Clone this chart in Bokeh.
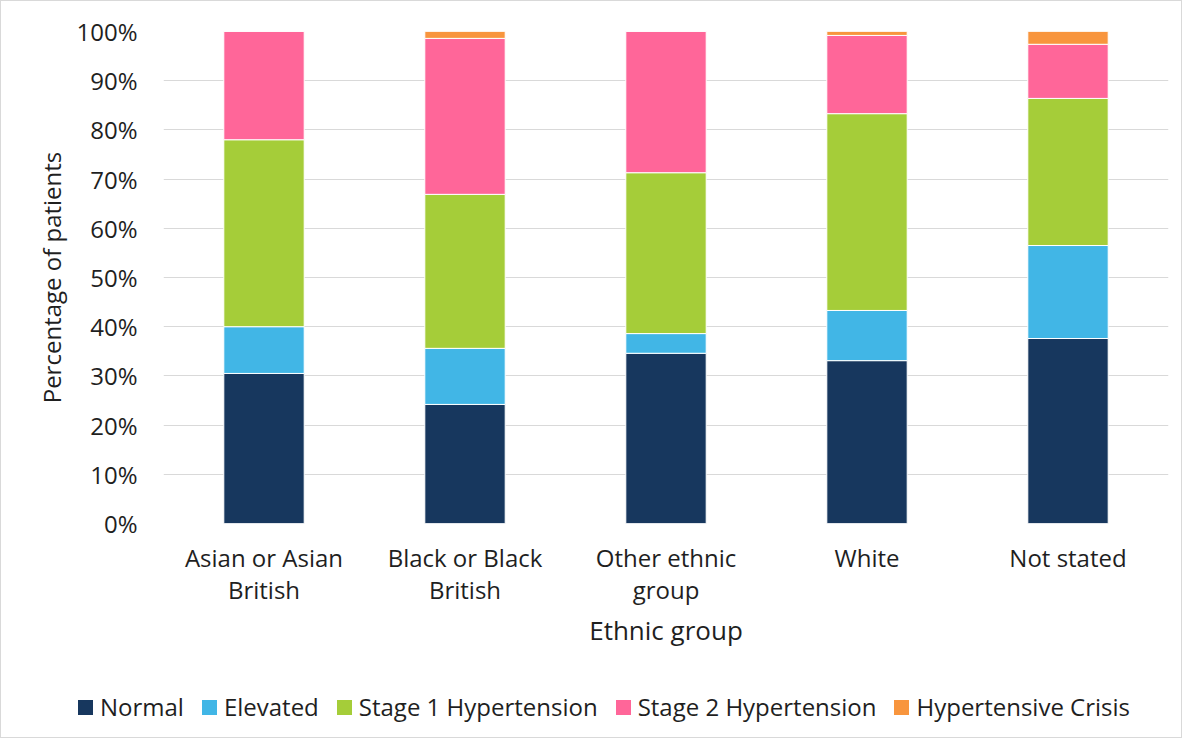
from bokeh.plotting import figure
from bokeh.layouts import column
from bokeh.models import ColumnDataSource, Range1d, FactorRange, NumeralTickFormatter, FixedTicker, Div
from bokeh.embed import file_html
from bokeh.resources import INLINE

categories = ["Asian or Asian\nBritish", "Black or Black\nBritish", "Other ethnic\ngroup", "White", "Not stated"]
normal = [0.305, 0.242, 0.346, 0.331, 0.376]
elevated = [0.095, 0.114, 0.040, 0.102, 0.189]
stage1 = [0.380, 0.313, 0.327, 0.400, 0.299]
stage2 = [0.220, 0.317, 0.287, 0.159, 0.110]
crisis = [0.000, 0.014, 0.000, 0.008, 0.026]

series = ["Normal", "Elevated", "Stage 1 Hypertension", "Stage 2 Hypertension", "Hypertensive Crisis"]
colors = ["#17375E", "#41B6E6", "#A5CD39", "#FF6699", "#F8953D"]

source = ColumnDataSource(data=dict(cat=categories, Normal=normal, Elevated=elevated,
                                    **{"Stage 1 Hypertension": stage1,
                                       "Stage 2 Hypertension": stage2,
                                       "Hypertensive Crisis": crisis}))

FONT = "Open Sans"
TXT = "#1f1f1f"

p = figure(width=1180, height=680, x_range=FactorRange(*categories), y_range=Range1d(0, 1),
           output_backend="svg", toolbar_location=None,
           min_border_left=162, min_border_right=13, min_border_top=30, min_border_bottom=158)
p.x_range.range_padding = 0.0

p.vbar_stack(series, x="cat", width=0.4, source=source, color=colors,
             line_color="white", line_width=1)

p.outline_line_color = None
p.background_fill_color = "white"
p.border_fill_color = "white"

p.xgrid.grid_line_color = None
p.ygrid.grid_line_color = "#d9d9d9"
p.ygrid.grid_line_width = 1.2

p.yaxis.ticker = FixedTicker(ticks=[i / 10 for i in range(11)])
p.yaxis.formatter = NumeralTickFormatter(format="0%")
for ax in (p.xaxis[0], p.yaxis[0]):
    ax.axis_line_color = None
    ax.major_tick_line_color = None
    ax.minor_tick_line_color = None
    ax.major_label_text_font = FONT
    ax.major_label_text_font_size = "24px"
    ax.major_label_text_color = TXT
    ax.axis_label_text_font = FONT
    ax.axis_label_text_font_style = "normal"
    ax.axis_label_text_color = TXT

p.yaxis.major_label_standoff = 20
p.yaxis.axis_label = "Percentage of patients"
p.yaxis.axis_label_text_font_size = "24px"
p.yaxis.axis_label_standoff = 5

p.xaxis.major_label_standoff = 11
p.xaxis.major_label_text_line_height = 0.97
p.xaxis.axis_label = "Ethnic group"
p.xaxis.axis_label_text_font_size = "26px"
p.xaxis.axis_label_standoff = 3

# legend as HTML (real text)
legend_items = "".join(
    f'<span style="display:inline-flex;align-items:center;margin:0 9px;">'
    f'<span style="display:inline-block;width:15px;height:15px;background:{c};margin-right:7px;"></span>'
    f'<span>{s}</span></span>'
    for s, c in zip(series, colors))
legend_div = Div(text=f'<div style="display:flex;justify-content:center;align-items:center;'
                      f'width:1180px;height:52px;padding-left:26px;box-sizing:border-box;'
                      f'font-family:\'{FONT}\';font-size:24px;color:{TXT};white-space:nowrap;">'
                      f'{legend_items}</div>',
                 width=1180, height=56, margin=0, styles={"background": "white"})

layout = column(p, legend_div, spacing=0, styles={"border": "1px solid #d9d9d9", "background": "white"})

open("out.html", "w").write(file_html(layout, INLINE))
